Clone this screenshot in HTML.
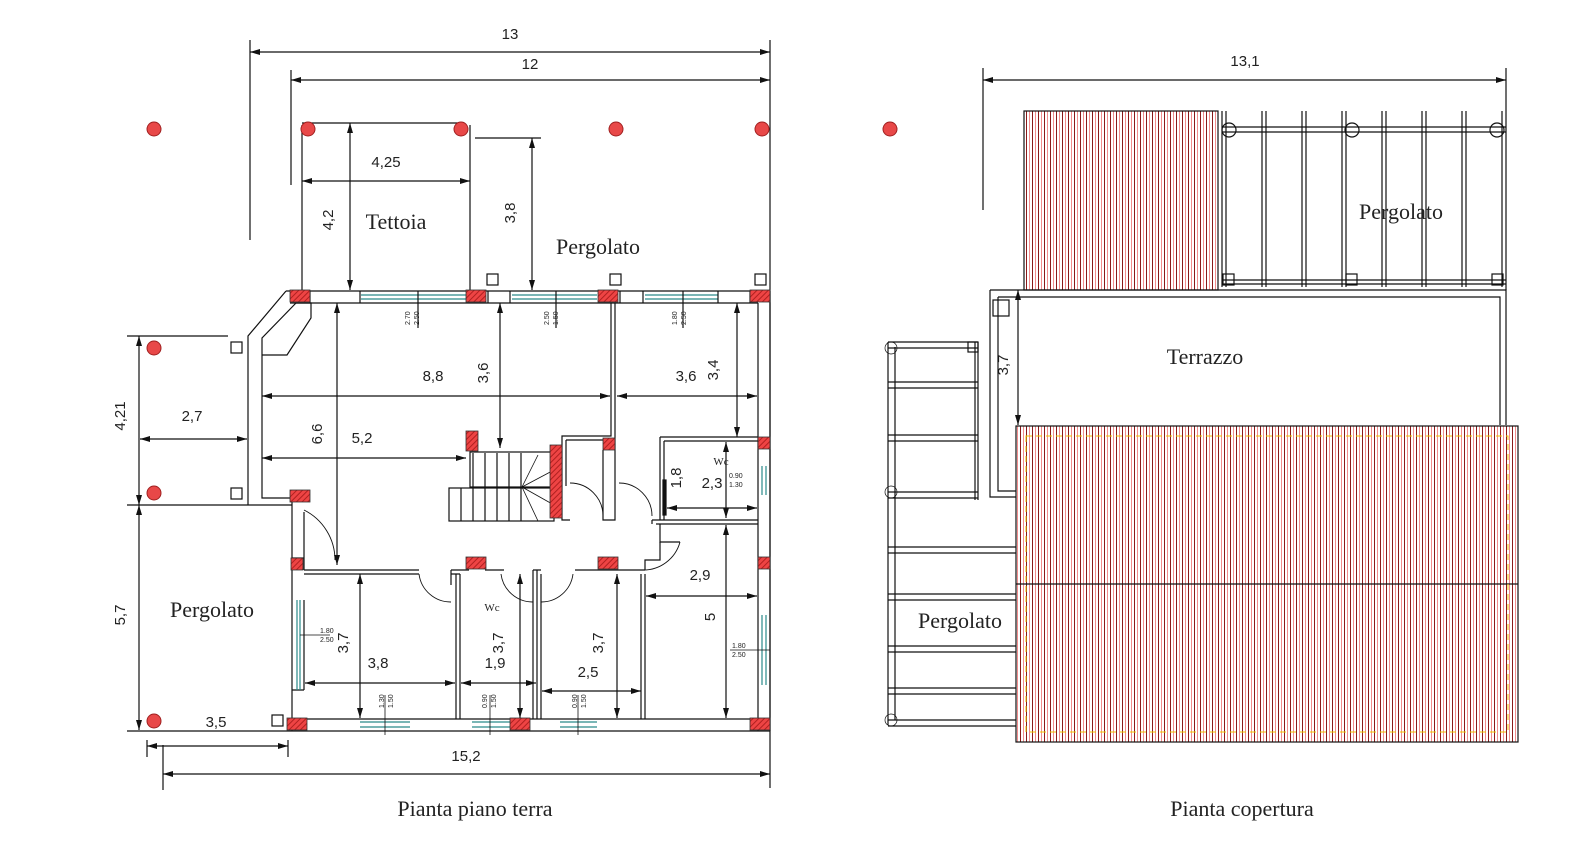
<!DOCTYPE html>
<html><head><meta charset="utf-8"><style>
html,body{margin:0;padding:0;background:#fff;}
svg{display:block;}
text{font-family:"Liberation Sans",sans-serif;fill:#222;}
.s{font-family:"Liberation Serif",serif;}
</style></head><body>
<svg width="1579" height="863" viewBox="0 0 1579 863" xmlns="http://www.w3.org/2000/svg">
<defs>
<pattern id="h" width="6" height="10" patternUnits="userSpaceOnUse">
<rect width="6" height="10" fill="#fff"/><rect x="0" width="1" height="10" fill="#8a1a1a"/><rect x="3" width="0.8" height="10" fill="#f07070"/>
</pattern>
<pattern id="rh" width="4" height="4" patternUnits="userSpaceOnUse" patternTransform="rotate(45)">
<rect width="4" height="4" fill="#ee4444"/><rect width="1" height="4" fill="#b02020"/>
</pattern>
<marker id="a" viewBox="0 0 10 6" refX="10" refY="3" markerWidth="10" markerHeight="6" orient="auto-start-reverse" markerUnits="userSpaceOnUse"><path d="M0,0 L10,3 L0,6z" fill="#111"/></marker>
</defs>
<g stroke="#111" stroke-width="1.2" fill="none">
<line x1="250" y1="52" x2="770" y2="52" marker-start="url(#a)" marker-end="url(#a)"/>
<line x1="250" y1="40" x2="250" y2="240"/><line x1="770" y1="40" x2="770" y2="788"/>
<line x1="291" y1="80" x2="770" y2="80" marker-start="url(#a)" marker-end="url(#a)"/>
<line x1="291" y1="70" x2="291" y2="185"/>
<line x1="302" y1="123" x2="462" y2="123"/>
<line x1="302" y1="125" x2="302" y2="292"/><line x1="470" y1="125" x2="470" y2="292"/>
<line x1="302" y1="181" x2="470" y2="181" marker-start="url(#a)" marker-end="url(#a)"/>
<line x1="350" y1="123" x2="350" y2="290" marker-start="url(#a)" marker-end="url(#a)"/>
<line x1="475" y1="138" x2="541" y2="138"/>
<line x1="532" y1="138" x2="532" y2="290" marker-start="url(#a)" marker-end="url(#a)"/>
<line x1="127" y1="336" x2="228" y2="336"/>
<line x1="139" y1="336" x2="139" y2="505" marker-start="url(#a)" marker-end="url(#a)"/>
<line x1="139" y1="505" x2="139" y2="730" marker-start="url(#a)" marker-end="url(#a)"/>
<line x1="140" y1="439" x2="247" y2="439" marker-start="url(#a)" marker-end="url(#a)"/>
<line x1="127" y1="505" x2="292" y2="505"/>
<line x1="127" y1="731" x2="770" y2="731"/>
<line x1="147" y1="746" x2="288" y2="746" marker-start="url(#a)" marker-end="url(#a)"/>
<line x1="147" y1="740" x2="147" y2="757"/><line x1="288" y1="740" x2="288" y2="757"/>
<line x1="163" y1="774" x2="770" y2="774" marker-start="url(#a)" marker-end="url(#a)"/>
<line x1="163" y1="745" x2="163" y2="790"/>
<path d="M286,291 L770,291 M290,303 L758,303"/>
<path d="M286,291 L248,336 L248,505 M296,303 L262,338 L262,498 L292,498"/>
<path d="M296,303 L311,303 L311,318 L287,355 L262,355"/>
<path d="M292,500 L292,731 M304,512 L304,558 M292,558 L304,558 L304,570 M304,600 L304,690 M292,690 L304,690"/>
<path d="M758,303 L758,731 M770,291 L770,731"/>
<path d="M288,719 L758,719"/>
<path d="M361,295 L466,295 M361,299 L466,299 M512,295 L597,295 M512,299 L597,299 M645,295 L718,295 M645,299 L718,299" stroke="#2a8a8a"/>
<path d="M310,291 L310,303 M360,291 L360,303 M488,291 L488,303 M510,291 L510,303 M620,291 L620,303 M643,291 L643,303 M718,291 L718,303 M750,291 L750,303"/>
<line x1="418" y1="291" x2="418" y2="328"/><line x1="556" y1="291" x2="556" y2="328"/><line x1="683" y1="291" x2="683" y2="328"/>
<line x1="262" y1="396" x2="610" y2="396" marker-start="url(#a)" marker-end="url(#a)"/>
<line x1="617" y1="396" x2="757" y2="396" marker-start="url(#a)" marker-end="url(#a)"/>
<line x1="337" y1="303" x2="337" y2="565" marker-start="url(#a)" marker-end="url(#a)"/>
<line x1="500" y1="303" x2="500" y2="448" marker-start="url(#a)" marker-end="url(#a)"/>
<line x1="737" y1="303" x2="737" y2="437" marker-start="url(#a)" marker-end="url(#a)"/>
<line x1="262" y1="458" x2="466" y2="458" marker-start="url(#a)" marker-end="url(#a)"/>
<path d="M611,303 L611,436 L562,436 L562,520 L570,520 M615,303 L615,520 L603,520 L603,450 M566,440 L611,440"/>
<path d="M566,440 L566,486"/>
<rect x="470" y="452" width="84" height="35"/>
<rect x="449" y="488" width="105" height="33"/>
<path d="M473,453 L473,487 M485,453 L485,487 M497,453 L497,487 M509,453 L509,487 M521,453 L521,487 M461,488 L461,521 M473,488 L473,521 M485,488 L485,521 M497,488 L497,521 M509,488 L509,521 M521,488 L521,521"/>
<path d="M522,487 L538,455 M522,487 L554,470 M522,487 L554,488 M522,487 L554,505 M522,487 L538,521" stroke-width="0.8"/>
<path d="M570,483 A33,33 0 0 1 603,516" stroke-width="0.9"/>
<path d="M619,483 A33,33 0 0 1 652,516" stroke-width="0.9"/>
<path d="M304,510 A56,56 0 0 1 335,560" stroke-width="0.9"/>
<path d="M652,520 L758,520 M656,524 L758,524 M652,520 L652,524 M660,524 L660,542 L680,542"/>
<path d="M680,542 A38,38 0 0 1 642,570" stroke-width="0.9"/>
<path d="M660,437 L758,437 M664,441 L758,441 M660,437 L660,520 M664,441 L664,520"/>
<rect x="663" y="480" width="3" height="35" fill="#111"/>
<line x1="726" y1="442" x2="726" y2="518" marker-start="url(#a)" marker-end="url(#a)"/>
<line x1="667" y1="508" x2="757" y2="508" marker-start="url(#a)" marker-end="url(#a)"/>
<path d="M762,466 L762,495 M766,466 L766,495" stroke="#2a8a8a"/>
<path d="M304,570 L419,570 M304,574 L419,574 M451,570 L451,585 M451,570 L469,570 M485,570 L504,570 M451,574 L460,574 M456,574 L456,719 M460,574 L460,719 M533,570 L533,719 M537,570 L537,719 M533,570 L541,570 M541,574 L541,719 M575,570 L645,570 M641,574 L641,719 M645,574 L645,719 M645,570 L645,560 L660,560 L660,542"/>
<path d="M419,574 A32,32 0 0 0 451,602" stroke-width="0.9"/>
<path d="M501,574 A32,32 0 0 0 533,602" stroke-width="0.9"/>
<path d="M541,602 A32,32 0 0 0 573,574" stroke-width="0.9"/>
<path d="M297,600 L297,690 M300,600 L300,690 M762,615 L762,685 M766,615 L766,685" stroke="#2a8a8a"/>
<line x1="360" y1="574" x2="360" y2="718" marker-start="url(#a)" marker-end="url(#a)"/>
<line x1="305" y1="683" x2="455" y2="683" marker-start="url(#a)" marker-end="url(#a)"/>
<line x1="520" y1="574" x2="520" y2="718" marker-start="url(#a)" marker-end="url(#a)"/>
<line x1="461" y1="683" x2="536" y2="683" marker-start="url(#a)" marker-end="url(#a)"/>
<line x1="617" y1="574" x2="617" y2="718" marker-start="url(#a)" marker-end="url(#a)"/>
<line x1="542" y1="691" x2="641" y2="691" marker-start="url(#a)" marker-end="url(#a)"/>
<line x1="726" y1="525" x2="726" y2="718" marker-start="url(#a)" marker-end="url(#a)"/>
<line x1="646" y1="596" x2="757" y2="596" marker-start="url(#a)" marker-end="url(#a)"/>
<path d="M360,722 L410,722 M360,727 L410,727 M472,722 L512,722 M472,727 L512,727 M560,722 L597,722 M560,727 L597,727" stroke="#2a8a8a"/>
<path d="M385,695 L385,735 M490,695 L490,735 M578,695 L578,735" stroke-width="0.8"/>
<path d="M300,635 L330,635 M730,650 L770,650" stroke-width="0.8"/>
<rect x="487" y="274" width="11" height="11"/><rect x="610" y="274" width="11" height="11"/><rect x="755" y="274" width="11" height="11"/>
<rect x="231" y="342" width="11" height="11"/><rect x="231" y="488" width="11" height="11"/><rect x="272" y="715" width="11" height="11"/>
</g>
<g fill="url(#rh)" stroke="#333" stroke-width="0.8">
<rect x="290" y="290" width="20" height="12"/><rect x="466" y="290" width="20" height="12"/><rect x="598" y="290" width="20" height="12"/><rect x="750" y="290" width="20" height="12"/>
<rect x="290" y="490" width="20" height="12"/><rect x="291" y="558" width="12" height="12"/>
<rect x="466" y="431" width="12" height="20"/><rect x="550" y="445" width="12" height="73"/><rect x="603" y="438" width="12" height="12"/>
<rect x="466" y="557" width="20" height="12"/><rect x="598" y="557" width="20" height="12"/>
<rect x="758" y="437" width="12" height="12"/><rect x="758" y="557" width="12" height="12"/>
<rect x="287" y="718" width="20" height="12"/><rect x="510" y="718" width="20" height="12"/><rect x="750" y="718" width="20" height="12"/>
</g>
<g fill="#e84848" stroke="#a02020" stroke-width="1">
<circle cx="154" cy="129" r="7"/><circle cx="308" cy="129" r="7"/><circle cx="461" cy="129" r="7"/><circle cx="616" cy="129" r="7"/><circle cx="762" cy="129" r="7"/>
<circle cx="154" cy="348" r="7"/><circle cx="154" cy="493" r="7"/><circle cx="154" cy="721" r="7"/><circle cx="890" cy="129" r="7"/>
</g>
<text x="510" y="39" font-size="15" text-anchor="middle">13</text>
<text x="530" y="69" font-size="15" text-anchor="middle">12</text>
<text x="386" y="167" font-size="15" text-anchor="middle">4,25</text>
<text class="s" x="396" y="229" font-size="22" text-anchor="middle">Tettoia</text>
<text class="s" x="598" y="254" font-size="22" text-anchor="middle">Pergolato</text>
<text x="433" y="381" font-size="15" text-anchor="middle">8,8</text>
<text x="686" y="381" font-size="15" text-anchor="middle">3,6</text>
<text x="362" y="443" font-size="15" text-anchor="middle">5,2</text>
<text x="192" y="421" font-size="15" text-anchor="middle">2,7</text>
<text class="s" x="212" y="617" font-size="22" text-anchor="middle">Pergolato</text>
<text x="216" y="727" font-size="15" text-anchor="middle">3,5</text>
<text x="466" y="761" font-size="15" text-anchor="middle">15,2</text>
<text x="378" y="668" font-size="15" text-anchor="middle">3,8</text>
<text x="495" y="668" font-size="15" text-anchor="middle">1,9</text>
<text x="588" y="677" font-size="15" text-anchor="middle">2,5</text>
<text x="700" y="580" font-size="15" text-anchor="middle">2,9</text>
<text x="712" y="488" font-size="15" text-anchor="middle">2,3</text>
<text class="s" x="721" y="465" font-size="11" text-anchor="middle">Wc</text>
<text class="s" x="492" y="611" font-size="11" text-anchor="middle">Wc</text>
<g font-size="15" text-anchor="middle">
<text transform="translate(333,220) rotate(-90)">4,2</text>
<text transform="translate(515,213) rotate(-90)">3,8</text>
<text transform="translate(125,416) rotate(-90)">4,21</text>
<text transform="translate(125,615) rotate(-90)">5,7</text>
<text transform="translate(322,434) rotate(-90)">6,6</text>
<text transform="translate(488,373) rotate(-90)">3,6</text>
<text transform="translate(718,370) rotate(-90)">3,4</text>
<text transform="translate(681,478) rotate(-90)">1,8</text>
<text transform="translate(348,643) rotate(-90)">3,7</text>
<text transform="translate(503,643) rotate(-90)">3,7</text>
<text transform="translate(603,643) rotate(-90)">3,7</text>
<text transform="translate(715,617) rotate(-90)">5</text>
<text transform="translate(1008,365) rotate(-90)">3,7</text>
</g>
<g class="s" font-size="7" font-family="Liberation Serif" fill="#333">
<text x="729" y="478">0.90</text><text x="729" y="487">1.30</text>
<text x="320" y="633">1.80</text><text x="320" y="642">2.50</text>
<text x="732" y="648">1.80</text><text x="732" y="657">2.50</text>
<text transform="translate(410,325) rotate(-90)">2.70</text><text transform="translate(419,325) rotate(-90)">2.50</text>
<text transform="translate(549,325) rotate(-90)">2.50</text><text transform="translate(558,325) rotate(-90)">1.50</text>
<text transform="translate(677,325) rotate(-90)">1.80</text><text transform="translate(686,325) rotate(-90)">2.50</text>
<text transform="translate(384,708) rotate(-90)">1.30</text><text transform="translate(393,708) rotate(-90)">1.50</text>
<text transform="translate(487,708) rotate(-90)">0.90</text><text transform="translate(496,708) rotate(-90)">1.50</text>
<text transform="translate(577,708) rotate(-90)">0.90</text><text transform="translate(586,708) rotate(-90)">1.50</text>
</g>
<text class="s" x="475" y="816" font-size="22" text-anchor="middle">Pianta piano terra</text>
<g stroke="#111" stroke-width="1.2" fill="none">
<line x1="983" y1="80" x2="1506" y2="80" marker-start="url(#a)" marker-end="url(#a)"/>
<line x1="983" y1="68" x2="983" y2="210"/><line x1="1506" y1="68" x2="1506" y2="290"/>
<rect x="1024" y="111" width="194" height="179" fill="url(#h)"/>
<path d="M1222,111 L1222,287 M1226,111 L1226,287 M1262,111 L1262,287 M1266,111 L1266,287 M1302,111 L1302,287 M1306,111 L1306,287 M1342,111 L1342,287 M1346,111 L1346,287 M1382,111 L1382,287 M1386,111 L1386,287 M1422,111 L1422,287 M1426,111 L1426,287 M1462,111 L1462,287 M1466,111 L1466,287 M1502,111 L1502,287"/>
<path d="M1222,127 L1506,127 M1222,132 L1506,132 M1222,280 L1506,280 M1222,284 L1506,284"/>
<circle cx="1229" cy="130" r="7"/><circle cx="1352" cy="130" r="7"/><circle cx="1497" cy="130" r="7"/>
<rect x="1223" y="274" width="11" height="11"/><rect x="1346" y="274" width="11" height="11"/><rect x="1492" y="274" width="11" height="11"/>
<path d="M990,290 L1506,290 L1506,425 M990,290 L990,497 L1022,497 M998,297 L1500,297 L1500,425 M998,297 L998,491 L1022,491"/>
<rect x="993" y="300" width="16" height="16"/>
<line x1="1018" y1="290" x2="1018" y2="425" marker-start="url(#a)" marker-end="url(#a)"/>
<path d="M888,342 L888,725 M895,347 L895,720 M975,342 L975,500 M978,342 L978,500"/>
<path d="M888,342 L978,342 M888,348 L978,348 M888,382 L978,382 M888,388 L978,388 M888,435 L978,435 M888,441 L978,441 M888,492 L978,492 M888,498 L978,498 M888,547 L1022,547 M888,553 L1022,553 M888,594 L1022,594 M888,600 L1022,600 M888,646 L1022,646 M888,652 L1022,652 M888,688 L1022,688 M888,694 L1022,694 M888,720 L1022,720 M888,726 L1022,726"/>
<circle cx="891" cy="348" r="6" stroke-width="0.7"/><circle cx="891" cy="492" r="6" stroke-width="0.7"/><circle cx="891" cy="720" r="6" stroke-width="0.7"/>
<rect x="968" y="342" width="10" height="10"/>
<rect x="1016" y="426" width="502" height="316" fill="url(#h)"/>
<line x1="1016" y1="584" x2="1518" y2="584"/>
<rect x="1026" y="436" width="482" height="296" stroke="#f2c000" stroke-width="1" stroke-dasharray="6,4"/>
</g>
<rect x="911" y="602" width="98" height="34" fill="#fff"/>
<text x="1245" y="66" font-size="15" text-anchor="middle">13,1</text>
<text class="s" x="1401" y="219" font-size="22" text-anchor="middle">Pergolato</text>
<text class="s" x="1205" y="364" font-size="22" text-anchor="middle">Terrazzo</text>
<text class="s" x="960" y="628" font-size="22" text-anchor="middle">Pergolato</text>
<text class="s" x="1242" y="816" font-size="22" text-anchor="middle">Pianta copertura</text>
</svg>
</body></html>
